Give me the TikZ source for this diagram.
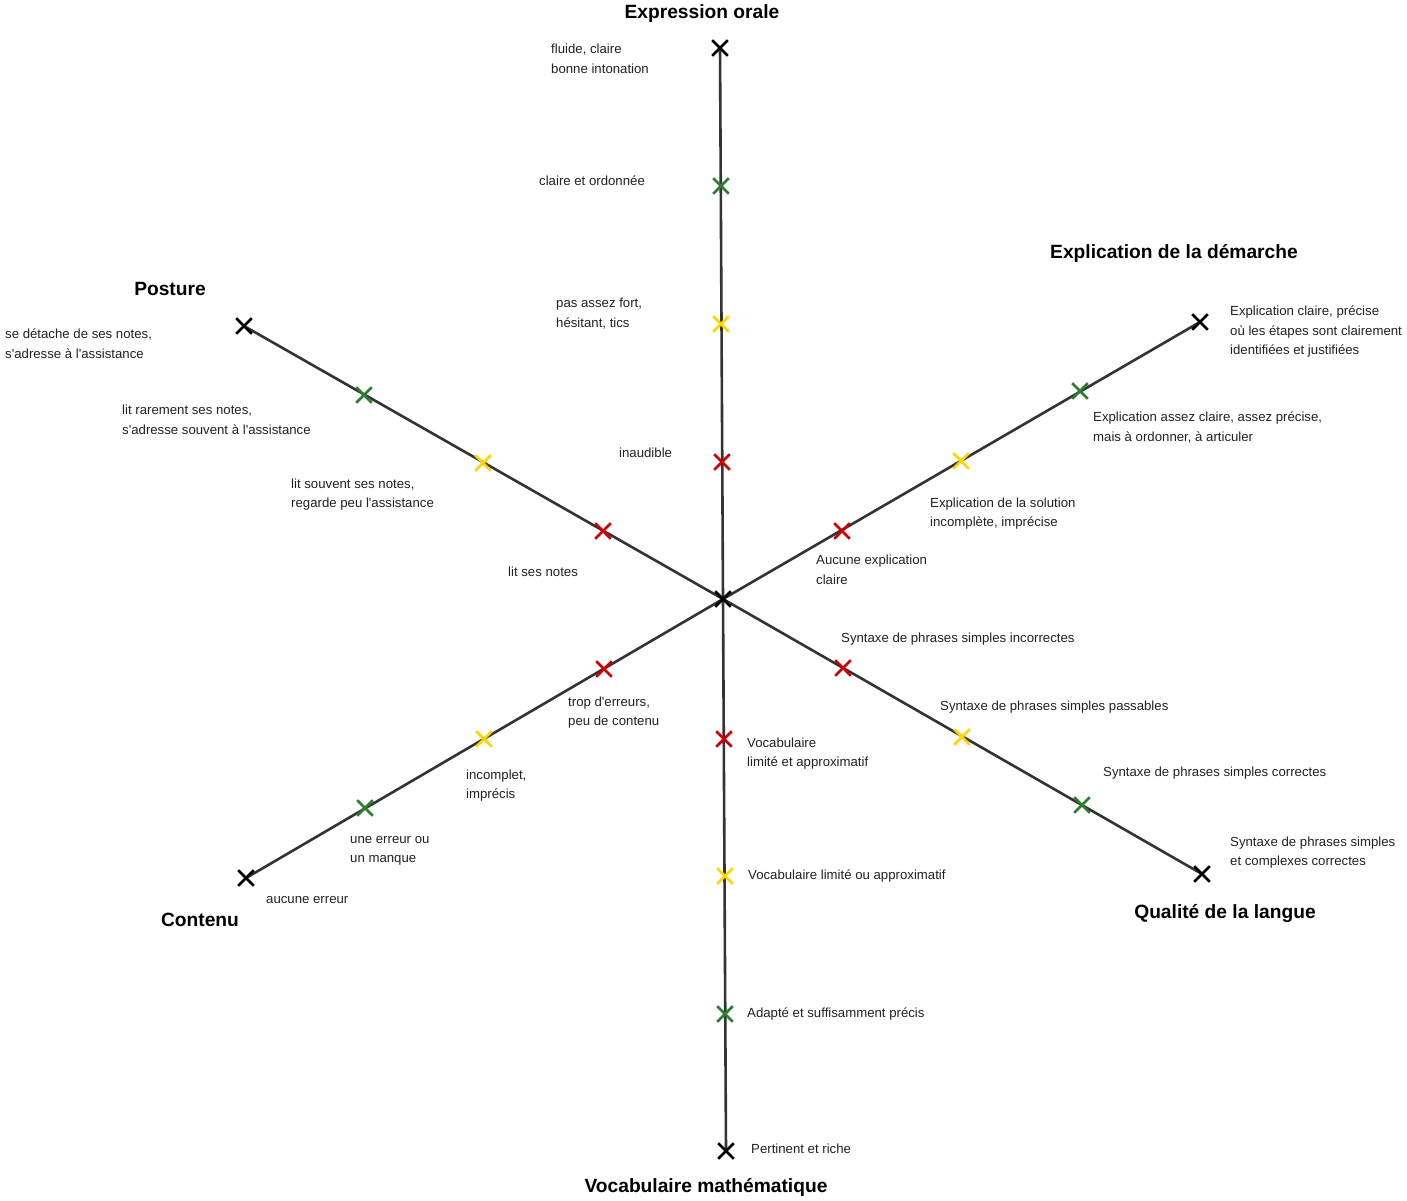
\documentclass[tikz,border=0pt]{standalone}
\usepackage{fontspec}
\setmainfont{Liberation Sans}
\usetikzlibrary{shapes.misc}
\definecolor{axisgray}{HTML}{333333}
\definecolor{lvred}{HTML}{CC0000}
\definecolor{lvyellow}{HTML}{FFD500}
\definecolor{lvgreen}{HTML}{2E7D32}
\definecolor{textgray}{HTML}{222222}
\newcommand{\ap}{\textquotesingle{}}
\begin{document}
\begin{tikzpicture}[x=1pt,y=-1pt,
  axis/.style={draw=axisgray,line width=2.6pt},
  mark/.style={cross out,draw=#1,line width=2.6pt,minimum size=13pt,inner sep=0pt},
  lvl/.style={font=\fontsize{13.2}{19.5}\selectfont,text=textgray,align=left,anchor=west,inner sep=0pt,yshift=-1.6pt},
  title/.style={font=\fontsize{19.2}{22}\selectfont\bfseries,text=black,inner sep=0pt,yshift=-1.8pt}]
\useasboundingbox[fill=white] (0,0) rectangle (1407,1200);

% end points and levels of the six axes
\coordinate (c) at (723,599);
\coordinate (eo4) at (720,48);  \coordinate (eo3) at (721,186); \coordinate (eo2) at (721,324); \coordinate (eo1) at (722,462);
\coordinate (vm1) at (724,739); \coordinate (vm2) at (725,876); \coordinate (vm3) at (725,1014); \coordinate (vm4) at (726,1151);
\coordinate (po4) at (244,326); \coordinate (po3) at (364,395); \coordinate (po2) at (483,463); \coordinate (po1) at (603,531);
\coordinate (ed4) at (1200,322); \coordinate (ed3) at (1080,391); \coordinate (ed2) at (961,461); \coordinate (ed1) at (842,531);
\coordinate (co1) at (604,669); \coordinate (co2) at (484,739); \coordinate (co3) at (365,808); \coordinate (co4) at (246,878);
\coordinate (ql1) at (843,668); \coordinate (ql2) at (962,737); \coordinate (ql3) at (1082,805); \coordinate (ql4) at (1202,874);

% axes
\draw[axis] (c) -- (eo4);
\draw[axis] (c) -- (vm4);
\draw[axis] (c) -- (po4);
\draw[axis] (c) -- (ed4);
\draw[axis] (c) -- (co4);
\draw[axis] (c) -- (ql4);

% level marks
\node[mark=black] (mc) at (c) {};
\foreach \a in {eo,vm,po,ed,co,ql}{
  \node[mark=lvred]    (m\a1) at (\a1) {};
  \node[mark=lvyellow] (m\a2) at (\a2) {};
  \node[mark=lvgreen]  (m\a3) at (\a3) {};
  \node[mark=black]    (m\a4) at (\a4) {};
}

% axis titles
\node[title] (teo) at (702,12) {Expression orale};
\node[title] (ted) at (1174,252) {Explication de la démarche};
\node[title] (tpo) at (170,287) {Posture};
\node[title] (tco) at (200,918) {Contenu};
\node[title] (tql) at (1225,912) {Qualité de la langue};
\node[title] (tvm) at (706,1186) {Vocabulaire mathématique};

% Expression orale
\node[lvl] (leo4) at (551,57) {fluide, claire\\bonne intonation};
\node[lvl] (leo3) at (539,179) {claire et ordonnée};
\node[lvl] (leo2) at (556,312) {pas assez fort,\\hésitant, tics};
\node[lvl] (leo1) at (619,451) {inaudible};

% Posture
\node[lvl] (lpo4) at (5,342) {se détache de ses notes,\\s\ap adresse à l\ap assistance};
\node[lvl] (lpo3) at (122,418) {lit rarement ses notes,\\s\ap adresse souvent à l\ap assistance};
\node[lvl] (lpo2) at (291,493) {lit souvent ses notes,\\regarde peu l\ap assistance};
\node[lvl] (lpo1) at (508,570) {lit ses notes};

% Explication de la démarche
\node[lvl] (led4) at (1230,330) {Explication claire, précise\\où les étapes sont clairement\\identifiées et justifiées};
\node[lvl] (led3) at (1093,426) {Explication assez claire, assez précise,\\mais à ordonner, à articuler};
\node[lvl] (led2) at (930,512) {Explication de la solution\\incomplète, imprécise};
\node[lvl] (led1) at (816,568) {Aucune explication\\claire};

% Qualité de la langue
\node[lvl] (lql1) at (841,637) {Syntaxe de phrases simples incorrectes};
\node[lvl] (lql2) at (940,705) {Syntaxe de phrases simples passables};
\node[lvl] (lql3) at (1103,771) {Syntaxe de phrases simples correctes};
\node[lvl] (lql4) at (1230,851) {Syntaxe de phrases simples\\et complexes correctes};

% Contenu
\node[lvl] (lco1) at (568,711) {trop d\ap erreurs,\\peu de contenu};
\node[lvl] (lco2) at (466,784) {incomplet,\\imprécis};
\node[lvl] (lco3) at (350,849) {une erreur ou\\un manque};
\node[lvl] (lco4) at (266,898) {aucune erreur};

% Vocabulaire mathématique
\node[lvl] (lvm1) at (747,752) {Vocabulaire\\limité et approximatif};
\node[lvl] (lvm2) at (748,874) {Vocabulaire limité ou approximatif};
\node[lvl] (lvm3) at (747,1012) {Adapté et suffisamment précis};
\node[lvl] (lvm4) at (751,1147) {Pertinent et riche};
\end{tikzpicture}
\end{document}
